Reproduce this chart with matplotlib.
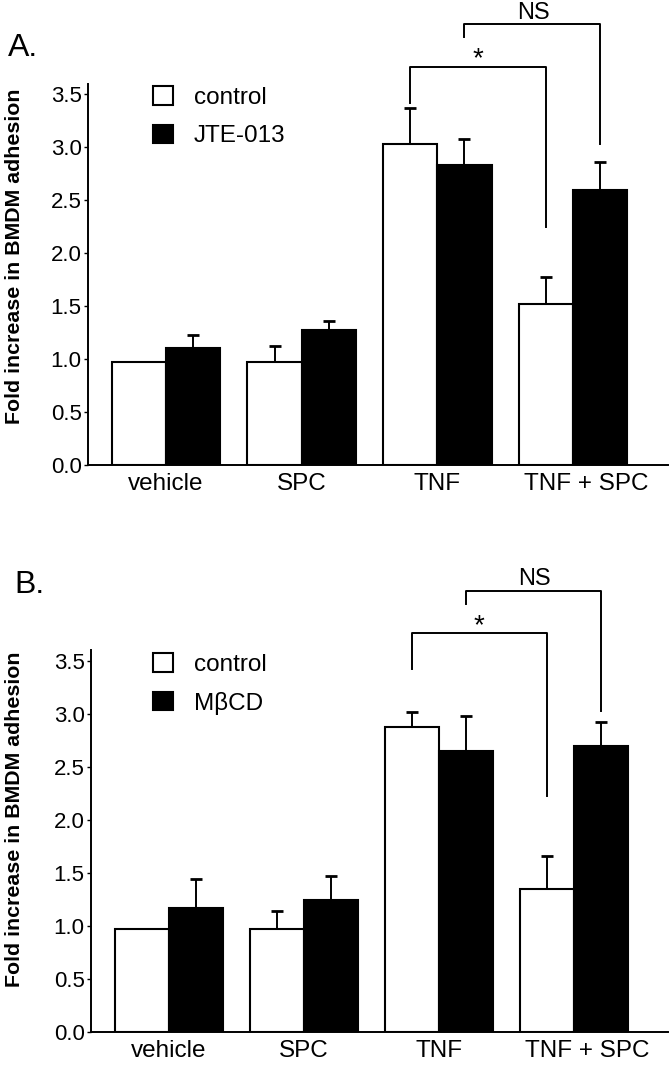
import matplotlib
matplotlib.use("Agg")
import matplotlib.pyplot as plt
import matplotlib.transforms as mtransforms
import numpy as np

# data
groups = ["vehicle", "SPC", "TNF", "TNF + SPC"]
y_ticks = [0.0, 0.5, 1.0, 1.5, 2.0, 2.5, 3.0, 3.5]

a_control = [0.97, 0.97, 3.03, 1.52]
a_control_err = [0.0, 0.15, 0.34, 0.25]
a_jte = [1.10, 1.27, 2.83, 2.60]
a_jte_err = [0.13, 0.09, 0.25, 0.26]

b_control = [0.97, 0.97, 2.88, 1.35]
b_control_err = [0.0, 0.17, 0.14, 0.31]
b_mbcd = [1.17, 1.24, 2.65, 2.70]
b_mbcd_err = [0.27, 0.23, 0.33, 0.22]

FONT = ["Liberation Sans", "DejaVu Sans"]


def draw_panel(ax, ctrl, ctrl_err, treat, treat_err, treat_name, star_leg, letter, letter_pos):
    x = np.arange(len(groups))
    w = 0.4
    ax.bar(x - w / 2, ctrl, w, color="white", edgecolor="black", linewidth=1.5,
           label="control", zorder=3)
    ax.bar(x + w / 2, treat, w, color="black", edgecolor="black", linewidth=1.5,
           label=treat_name, zorder=3)
    ax.errorbar(x - w / 2, ctrl, yerr=[np.zeros(4), ctrl_err], fmt="none",
                ecolor="black", elinewidth=1.4, capsize=4.5, capthick=2, zorder=2)
    ax.errorbar(x + w / 2, treat, yerr=[np.zeros(4), treat_err], fmt="none",
                ecolor="black", elinewidth=1.4, capsize=4.5, capthick=2, zorder=2)

    ax.set_xlim(-0.575, 3.70)
    ax.set_ylim(0, 3.6)
    ax.set_yticks(y_ticks)
    ax.set_yticklabels(["%.1f" % t for t in y_ticks], family=FONT, fontsize=16)
    ax.set_xticks(x)
    ax.set_xticklabels(groups, family=FONT, fontsize=17.5)
    ax.tick_params(axis="x", length=0, pad=6)
    ax.tick_params(axis="y", length=3, width=1, pad=1.5)
    for s in ["top", "right"]:
        ax.spines[s].set_visible(False)
    for s in ["left", "bottom"]:
        ax.spines[s].set_linewidth(1.4)

    # the last group label sits a little right of its bars in the original
    fig = ax.figure
    shift = mtransforms.ScaledTranslation(0.13, 0, fig.dpi_scale_trans)
    last = ax.get_xticklabels()[-1]
    last.set_transform(last.get_transform() + shift)

    # significance brackets
    kw = dict(color="black", linewidth=1.4, clip_on=False)
    ax.plot([1.8, 1.8, 2.8, 2.8], [3.42, 3.76, 3.76, star_leg], **kw)
    ax.plot([2.2, 2.2, 3.2, 3.2], [4.04, 4.16, 4.16, 3.03], **kw)
    ax.text(2.30, 3.83, "*", ha="center", va="center", fontsize=20, family=FONT)
    ax.text(2.71, 4.27, "NS", ha="center", va="center", fontsize=17, family=FONT)

    fig.text(letter_pos[0], letter_pos[1], letter, ha="left", va="center",
             fontsize=23, family=FONT)
    return ax


fig = plt.figure(figsize=(6.69, 10.71), dpi=100)
ax_a = fig.add_axes([0.1315, 0.5658, 0.867, 0.3562])
ax_b = fig.add_axes([0.136, 0.0367, 0.863, 0.3562])

draw_panel(ax_a, a_control, a_control_err, a_jte, a_jte_err, "JTE-013", 2.25, "A.", (0.012, 0.955))
draw_panel(ax_b, b_control, b_control_err, b_mbcd, b_mbcd_err, "M\u03b2CD", 2.22, "B.", (0.022, 0.454))

for ax, top in [(ax_a, 86), (ax_b, 653)]:
    ax.legend(loc="upper left", bbox_to_anchor=(153 / 669, 1 - top / 1071),
              bbox_transform=fig.transFigure, frameon=False, borderpad=0,
              borderaxespad=0, handlelength=0.82, handleheight=0.8,
              handletextpad=0.85, labelspacing=0.65,
              prop={"family": FONT, "size": 17.5})

fig.text(0.021, 0.761, "Fold increase in BMDM adhesion", rotation=90,
         ha="center", va="center", fontsize=15.4, fontweight="bold", family=FONT)
fig.text(0.021, 0.235, "Fold increase in BMDM adhesion", rotation=90,
         ha="center", va="center", fontsize=15.4, fontweight="bold", family=FONT)

fig.savefig("out.png", dpi=100)
